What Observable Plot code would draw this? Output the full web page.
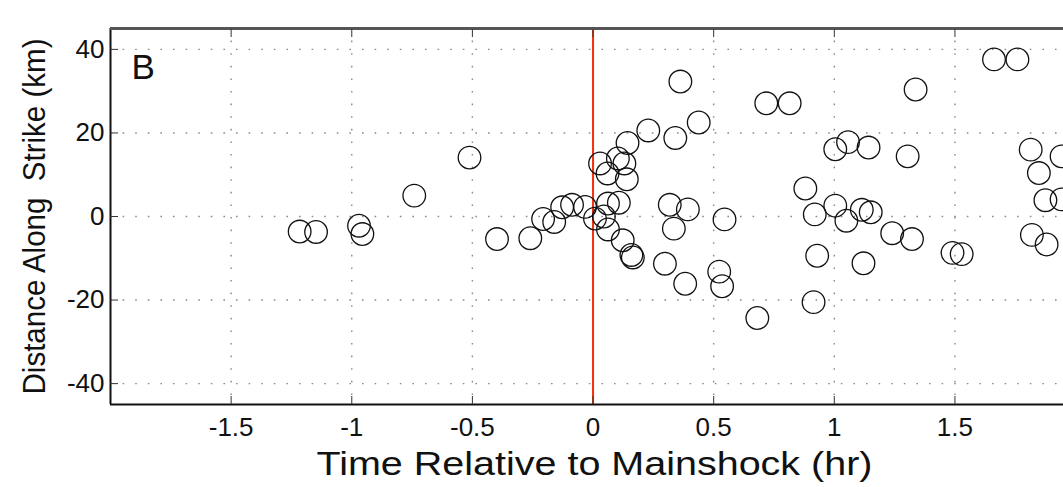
<!DOCTYPE html>
<html>
<head>
<meta charset="utf-8">
<script src="https://cdn.jsdelivr.net/npm/d3@7"></script>
<script src="https://cdn.jsdelivr.net/npm/@observablehq/plot@0.6"></script>
<style>
  html, body { margin: 0; padding: 0; background: #fff; }
  #chart svg { display: block; }
</style>
</head>
<body>
<div id="chart"></div>
<script>
// Time relative to mainshock (hr)
const timeHr = [
  -1.216, -1.148, -0.970, -0.956, -0.741, -0.512, -0.398, -0.260,
  -0.207, -0.161, -0.128, -0.087, -0.033, 0.008, 0.045, 0.062,
  0.107, 0.062, 0.029, 0.060, 0.103, 0.130, 0.140, 0.143,
  0.229, 0.341, 0.362, 0.438, 0.318, 0.393, 0.335, 0.123,
  0.159, 0.165, 0.298, 0.382, 0.523, 0.535, 0.545, 0.681,
  0.718, 0.815, 0.880, 0.919, 1.004, 1.050, 1.114, 1.151,
  1.240, 1.322, 0.929, 1.121, 0.914, 1.004, 1.057, 1.142,
  1.304, 1.337, 1.490, 1.528, 1.662, 1.759, 1.814, 1.848,
  1.942, 1.875, 1.942, 1.819, 1.880
];
// Distance along strike (km)
const distKm = [
  -3.6, -3.7, -2.2, -4.2, 5.0, 14.1, -5.4, -5.2,
  -0.6, -1.3, 2.2, 2.8, 2.3, -0.5, 0.0, 3.1,
  3.3, -3.1, 12.7, 10.3, 13.9, 12.7, 8.9, 17.6,
  20.6, 18.8, 32.3, 22.5, 2.8, 1.7, -2.9, -5.7,
  -9.2, -9.8, -11.3, -16.1, -13.2, -16.7, -0.7, -24.3,
  27.1, 27.1, 6.7, 0.5, 2.6, -1.0, 1.6, 1.0,
  -4.0, -5.4, -9.4, -11.2, -20.5, 16.1, 17.8, 16.5,
  14.4, 30.4, -8.7, -9.0, 37.6, 37.6, 16.0, 10.4,
  14.4, 3.9, 4.1, -4.4, -6.7
];
const xTicks = [-1.5, -1, -0.5, 0, 0.5, 1, 1.5];
const yTicks = [-40, -20, 0, 20, 40];
const xDomain = [-2, 1.95];
const yDomain = [-45, 45];
const mainshock = [0];
const xTitle = "Time Relative to Mainshock (hr)";
const yTitle = "Distance Along  Strike (km)";
const panelLabel = "B";

const data = timeHr.map((t, i) => ({t, d: distKm[i]}));
const fmt = d => String(d);
const font = "'Liberation Sans', Arial, Helvetica, sans-serif";

const chart = Plot.plot({
  width: 1063,
  height: 487,
  marginLeft: 110,
  marginRight: 0,
  marginTop: 28,
  marginBottom: 83,
  style: {fontFamily: font, background: "#fff", color: "#111"},
  x: {domain: xDomain},
  y: {domain: yDomain},
  marks: [
    Plot.gridX(xTicks, {stroke: "#8a8a8a", strokeOpacity: 1, strokeWidth: 1.4, strokeDasharray: "1.6,11"}),
    Plot.gridY(yTicks, {stroke: "#8a8a8a", strokeOpacity: 1, strokeWidth: 1.4, strokeDasharray: "1.6,11"}),
    Plot.ruleX(mainshock, {stroke: "#f4300c", strokeWidth: 2}),
    Plot.dot(data, {x: "t", y: "d", r: 11.3, stroke: "#111", strokeWidth: 1.3, fill: "none", clip: true}),
    // frame lines (left, top, bottom)
    Plot.ruleX([xDomain[0]], {stroke: "#111", strokeWidth: 2}),
    Plot.ruleY([yDomain[1]], {stroke: "#555", strokeWidth: 3}),
    Plot.ruleY([yDomain[0]], {stroke: "#111", strokeWidth: 2}),
    // inward ticks
    Plot.axisX(xTicks, {anchor: "bottom", tickSize: -8, text: null, label: null, stroke: "#333"}),
    Plot.axisX(xTicks, {anchor: "top", tickSize: -8, text: null, label: null, stroke: "#333"}),
    Plot.axisY(yTicks, {anchor: "left", tickSize: -8, text: null, label: null, stroke: "#333"}),
    // tick labels
    Plot.axisX(xTicks, {anchor: "bottom", tickSize: 0, tickPadding: 13, tickFormat: fmt, fontSize: 26, label: null}),
    Plot.axisY(yTicks, {anchor: "left", tickSize: 0, tickPadding: 6, tickFormat: fmt, fontSize: 26, label: null}),
    // titles
    Plot.text([xTitle], {frameAnchor: "bottom", lineAnchor: "middle", textAnchor: "middle", dx: 7.5, dy: 60, text: d => d, fontSize: 33, fill: "#111"}),
    Plot.text([yTitle], {frameAnchor: "left", lineAnchor: "middle", textAnchor: "middle", dx: -75, rotate: -90, text: d => d, fontSize: 31, fill: "#111"}),
    Plot.text([panelLabel], {frameAnchor: "top-left", lineAnchor: "middle", textAnchor: "start", dx: 21, dy: 39, text: d => d, fontSize: 35, fill: "#111"})
  ]
});
// stretch the titles to the reference's text extents
d3.select(chart).selectAll("text").each(function() {
  const t = this.textContent;
  if (t === xTitle) d3.select(this).attr("textLength", 556).attr("lengthAdjust", "spacingAndGlyphs");
  if (t === yTitle) d3.select(this).attr("textLength", 356).attr("lengthAdjust", "spacingAndGlyphs");
});
document.getElementById("chart").appendChild(chart);
</script>
</body>
</html>
